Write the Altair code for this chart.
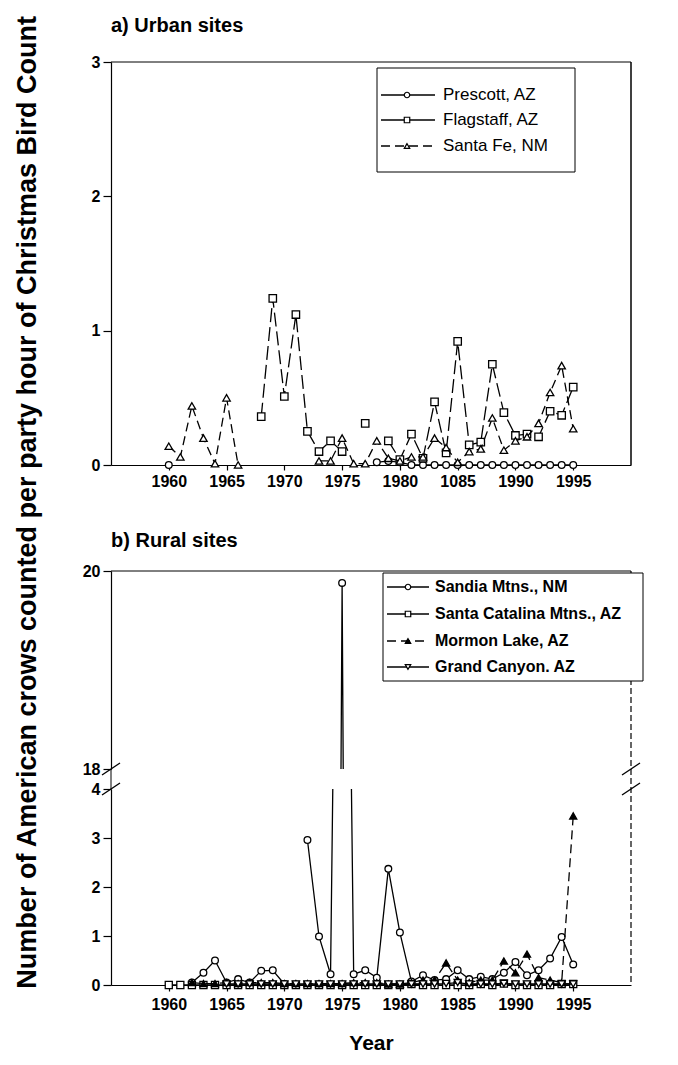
import altair as alt
import pandas as pd

N = None
years = list(range(1960, 1996))

# ---------------- a) Urban sites ----------------
urban_names = ["Prescott, AZ", "Flagstaff, AZ", "Santa Fe, NM"]
prescott = [0.0, N, N, N, N, N, N, N, N, N, N, N, N, N, N, N, N, N,
            0.02, 0.03, 0.02, 0.0, 0.0, 0.0, 0.0, 0.0, 0.0, 0.0, 0.0, 0.0,
            0.0, 0.0, 0.0, 0.0, 0.0, 0.0]
flagstaff = [N, N, N, N, N, N, N, N,
             0.36, 1.24, 0.51, 1.12, 0.25, 0.10, 0.18, 0.10, N, 0.31, N, 0.18,
             0.04, 0.23, 0.05, 0.47, 0.09, 0.92, 0.15, 0.17, 0.75, 0.39, 0.22,
             0.23, 0.21, 0.40, 0.37, 0.58]
santa_fe = [0.14, 0.06, 0.44, 0.20, 0.01, 0.50, 0.0, N, N, N, N, N, N,
            0.03, 0.03, 0.20, 0.01, 0.01, 0.18, 0.05, 0.03, 0.06, 0.06, 0.20,
            0.13, 0.02, 0.10, 0.12, 0.35, 0.11, 0.18, 0.21, 0.31, 0.54, 0.74,
            0.27]

# ---------------- b) Rural sites ----------------
rural_names = ["Sandia Mtns., NM", "Santa Catalina Mtns., AZ",
               "Mormon Lake, AZ", "Grand Canyon. AZ"]
sandia = [N, N, 0.05, 0.25, 0.50, 0.05, 0.12, 0.05, 0.29, 0.30, 0.02, N,
          2.96, 0.99, 0.22, 19.88, 0.22, 0.30, 0.15, 2.37, 1.07, 0.07, 0.20,
          0.10, 0.12, 0.30, 0.12, 0.17, 0.12, 0.25, 0.47, 0.20, 0.30, 0.54,
          0.98, 0.42]
catalina = [0.0, 0.0, 0.0, 0.0, 0.0, 0.0, 0.0, 0.0, 0.0, 0.0, 0.0, 0.0,
            0.0, 0.0, 0.0, 0.0, 0.0, 0.0, 0.0, 0.0, 0.0, 0.02, 0.0, 0.0,
            0.0, 0.0, 0.0, 0.02, 0.0, 0.03, 0.0, 0.0, 0.0, 0.0, 0.02, 0.02]
mormon = [N, N, 0.05, 0.03, 0.03, 0.05, 0.03, 0.05, 0.05, 0.05, 0.03, 0.03,
          0.03, 0.03, 0.03, 0.03, 0.05, 0.05, 0.05, 0.02, 0.02, 0.05, 0.10,
          0.10, 0.45, 0.10, 0.05, 0.10, 0.10, 0.49, 0.25, 0.63, 0.15, 0.10,
          0.05, 3.45]
grand_canyon = [N, N, N, N, N, 0.02, 0.02, 0.02, 0.02, 0.02, 0.02, 0.02,
                0.02, 0.02, 0.02, 0.02, 0.02, 0.02, 0.02, 0.02, 0.02, 0.02,
                0.02, 0.02, 0.03, 0.05, 0.02, 0.02, 0.02, 0.03, 0.02, 0.02,
                0.02, 0.02, 0.02, 0.02]

tick_years = [1960, 1965, 1970, 1975, 1980, 1985, 1990, 1995]
urban_tick_labels = ["1960", "1965", "1970", "1975", "1980", "1085", "1990", "1995"]
rural_tick_labels = ["1960", "1965", "1970", "1975", "1980", "1985", "1990", "1995"]

y_title = "Number of American crows counted per party hour of Christmas Bird Count"

FONT = "Liberation Sans"
W = 520
H_TOP = 403
H_BU = 198
H_BL = 196
X_DOM = [1955, 2000]


def to_df(name, values):
    rows = []
    seg = 0
    for yr, v in zip(years, values):
        if v is None:
            seg += 1
            continue
        rows.append({"year": yr, "value": v, "seg": f"{name}-{seg}"})
    return pd.DataFrame(rows)


def label_expr(labels):
    parts = " : ".join(
        f"datum.value == {y} ? '{l}'" for y, l in zip(tick_years, labels))
    return parts + " : ''"


def series_layers(df, xenc, yenc, shape, filled, dash, size, pfilter=None):
    line_kw = dict(color="black", strokeWidth=1.3, clip=True)
    if dash:
        line_kw["strokeDash"] = dash
    line = alt.Chart(df).mark_line(**line_kw).encode(x=xenc, y=yenc, detail="seg:N")
    pt_kw = dict(shape=shape, size=size, filled=True, stroke="black",
                 strokeWidth=1.3, opacity=1,
                 fill="black" if filled else "white")
    pts = alt.Chart(df).mark_point(**pt_kw).encode(x=xenc, y=yenc)
    if pfilter is not None:
        pts = pts.transform_filter(pfilter)
    return [line, pts]


dummy = pd.DataFrame({"d": [0]})


def vrule(x0, x1, y0, y1, width=1.0, dash=None):
    kw = dict(color="black", strokeWidth=width)
    if dash:
        kw["strokeDash"] = dash
    return alt.Chart(dummy).mark_rule(**kw).encode(
        x=alt.value(x0), x2=alt.value(x1), y=alt.value(y0), y2=alt.value(y1))


def legend_layers(names, shapes, fills, dashes, box, rows, x_line, x_mark, x_text,
                  fsize, weight):
    out = [alt.Chart(dummy).mark_rect(fill="white", stroke="black", strokeWidth=1).encode(
        x=alt.value(box[0]), x2=alt.value(box[1]), y=alt.value(box[2]), y2=alt.value(box[3]))]
    for name, shp, fil, dsh, yy in zip(names, shapes, fills, dashes, rows):
        kw = dict(color="black", strokeWidth=1.3)
        if dsh:
            kw["strokeDash"] = dsh
        out.append(alt.Chart(dummy).mark_rule(**kw).encode(
            x=alt.value(x_line[0]), x2=alt.value(x_line[1]), y=alt.value(yy)))
        out.append(alt.Chart(dummy).mark_point(
            shape=shp, size=30, filled=True, stroke="black", strokeWidth=1.2,
            opacity=1, fill="black" if fil else "white").encode(
            x=alt.value(x_mark), y=alt.value(yy)))
        out.append(alt.Chart(dummy).mark_text(
            align="left", baseline="middle", font=FONT, fontSize=fsize,
            fontWeight=weight, color="black").encode(
            x=alt.value(x_text), y=alt.value(yy), text=alt.value(name)))
    return out


# ---------------- top panel ----------------
x_top = alt.X("year:Q", scale=alt.Scale(domain=X_DOM, nice=False),
              axis=alt.Axis(values=tick_years, labelExpr=label_expr(urban_tick_labels),
                            title=None, grid=False, tickSize=5, labelPadding=3))
y_top = alt.Y("value:Q", scale=alt.Scale(domain=[0, 3], nice=False),
              axis=alt.Axis(values=[0, 1, 2, 3], title=None, grid=False, format="d"))

u_shapes = ["circle", "square", "triangle-up"]
u_fills = [False, False, False]
u_dashes = [None, [14, 5], [9, 5]]
u_data = [prescott, flagstaff, santa_fe]

top_layers = []
for nm, vals, shp, fil, dsh in zip(urban_names, u_data, u_shapes, u_fills, u_dashes):
    sz = 45 if shp == "circle" else 55
    top_layers += series_layers(to_df(nm, vals), x_top, y_top, shp, fil, dsh, sz)
top_layers += [vrule(0, W, 0, 0), vrule(W, W, 0, H_TOP, 1.5)]
top_layers += legend_layers(urban_names, u_shapes, u_fills, [None, None, [9, 5]],
                            box=(266, 464, 6, 110), rows=[33, 58, 84],
                            x_line=(270, 324), x_mark=296, x_text=332,
                            fsize=17, weight="normal")
top = alt.layer(*top_layers).properties(
    width=W, height=H_TOP,
    title=alt.TitleParams("a) Urban sites", anchor="start", frame="group",
                          fontSize=20, fontWeight="bold", font=FONT, offset=18,
                          color="black"))

# ---------------- bottom panel ----------------
r_shapes = ["circle", "square", "triangle-up", "triangle-down"]
r_fills = [False, False, True, False]
r_dashes = [None, None, [9, 5], None]
r_data = [sandia, catalina, mormon, grand_canyon]

x_bu = alt.X("year:Q", scale=alt.Scale(domain=X_DOM, nice=False), axis=None)
y_bu = alt.Y("value:Q", scale=alt.Scale(domain=[18, 20], nice=False),
             axis=alt.Axis(values=[18, 19, 20], title=None, grid=False, format="d"))
bu_layers = []
for nm, vals, shp, fil, dsh in zip(rural_names, r_data, r_shapes, r_fills, r_dashes):
    sz = 45 if shp == "circle" else 50
    bu_layers += series_layers(to_df(nm, vals), x_bu, y_bu, shp, fil, dsh, sz,
                               pfilter=alt.datum.value >= 18)
bu_layers += [vrule(0, W, 0, 0), vrule(W, W, 0, H_BU, 1.2, [6, 3]),
              vrule(-9, 9, H_BU + 6, H_BU - 6, 1.3),
              vrule(W - 9, W + 9, H_BU + 6, H_BU - 6, 1.3)]
bu_layers += legend_layers(rural_names, r_shapes, r_fills, [None, None, [9, 5], None],
                           box=(272, 532, 2, 110), rows=[16, 43, 70, 96],
                           x_line=(276, 318), x_mark=297, x_text=324,
                           fsize=16, weight="bold")
bottom_upper = alt.layer(*bu_layers).properties(
    width=W, height=H_BU,
    title=alt.TitleParams("b) Rural sites", anchor="start", frame="group",
                          fontSize=20, fontWeight="bold", font=FONT, offset=12,
                          color="black"))

x_bl = alt.X("year:Q", scale=alt.Scale(domain=X_DOM, nice=False),
             axis=alt.Axis(values=tick_years, labelExpr=label_expr(rural_tick_labels),
                           title="Year", grid=False, tickSize=6, labelPadding=5,
                           titleFontSize=21, titleFontWeight="bold", titlePadding=20))
y_bl = alt.Y("value:Q", scale=alt.Scale(domain=[0, 4], nice=False),
             axis=alt.Axis(values=[0, 1, 2, 3, 4], title=None, grid=False, format="d"))
bl_layers = []
for nm, vals, shp, fil, dsh in zip(rural_names, r_data, r_shapes, r_fills, r_dashes):
    sz = 45 if shp == "circle" else 50
    bl_layers += series_layers(to_df(nm, vals), x_bl, y_bl, shp, fil, dsh, sz,
                               pfilter=alt.datum.value <= 4)
bl_layers += [vrule(W, W, -20, H_BL, 1.2, [6, 3]),
              vrule(0, 0, -20, 0, 1.0),
              vrule(-9, 9, 6, -6, 1.3),
              vrule(W - 9, W + 9, 6, -6, 1.3)]
bottom_lower = alt.layer(*bl_layers).properties(width=W, height=H_BL)

bottom = alt.vconcat(bottom_upper, bottom_lower, spacing=20, bounds="flush")

chart = alt.vconcat(top, bottom, spacing=42).properties(
    title=alt.TitleParams(y_title, orient="left", anchor="end", fontSize=27,
                          fontWeight="bold", font=FONT, offset=40, color="black"),
    padding={"left": 6, "top": 8, "right": 5, "bottom": 0},
    background="white",
).configure_view(stroke=None).configure_axis(
    labelFont=FONT, labelFontSize=16, labelFontWeight="bold", labelColor="black",
    titleFont=FONT, titleColor="black", domainColor="black", tickColor="black",
    domainWidth=1.2, tickWidth=1.2, tickSize=8, labelPadding=3,
)

chart.save("out.html", embed_options={"renderer": "svg", "actions": False})
